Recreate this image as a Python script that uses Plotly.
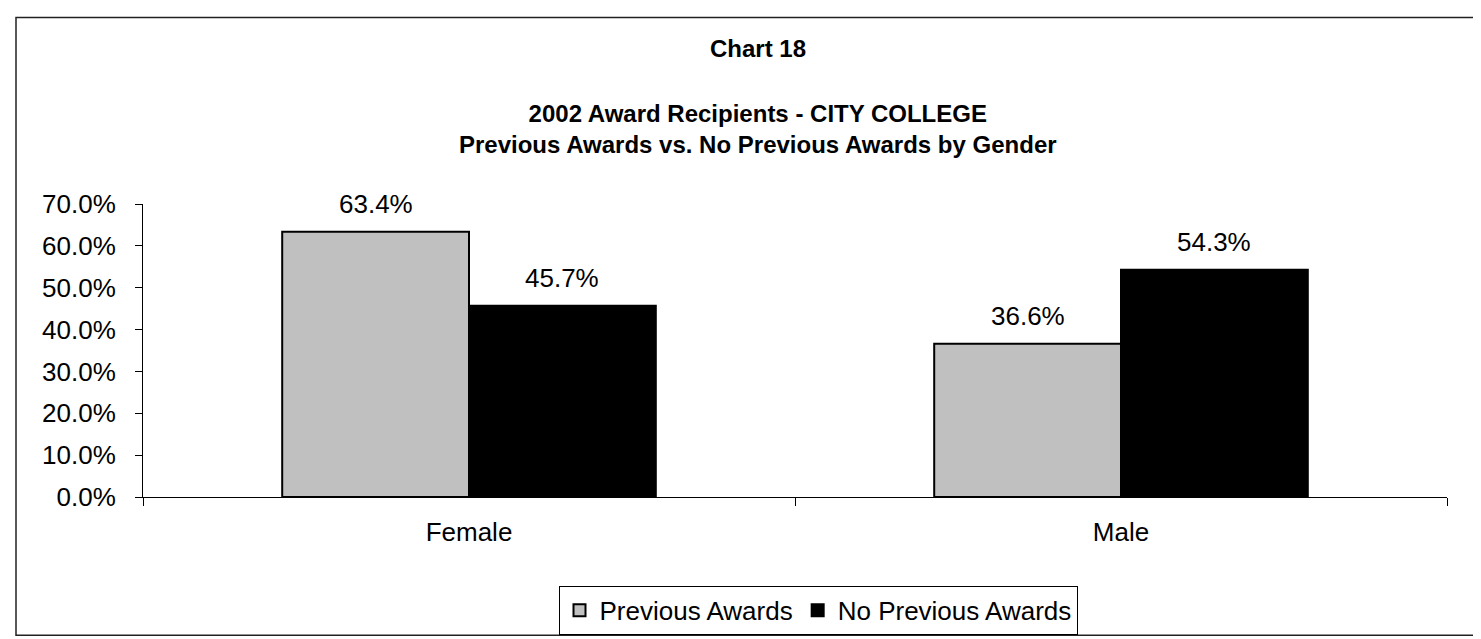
import plotly.graph_objects as go

W, H = 1481, 639
ML, MR, MT, MB = 135, 42, 196, 143

categories = ["Female", "Male"]
previous_awards = [63.4, 36.6]
no_previous_awards = [45.7, 54.3]
series_names = ["Previous Awards", "No Previous Awards"]
y_ticks = [0, 10, 20, 30, 40, 50, 60, 70]

FONT = "Arial, Liberation Sans, sans-serif"
PW = W - ML - MR
PH = H - MT - MB
BARGAP = 0.427


def px_x(px):
    return (px - ML) / PW


def px_y(py):
    return (H - MB - py) / PH


fig = go.Figure()
fig.add_trace(go.Bar(x=categories, y=previous_awards, name=series_names[0],
                     marker=dict(color="#C0C0C0", line=dict(color="black", width=2))))
fig.add_trace(go.Bar(x=categories, y=no_previous_awards, name=series_names[1],
                     marker=dict(color="black", line=dict(color="black", width=2))))

# value labels above each bar (shifted to the centre of each bar in the group)
bar_w = PW / len(categories) * (1 - BARGAP) / 2
annotations = []
for vals, shift in [(previous_awards, -bar_w / 2), (no_previous_awards, bar_w / 2)]:
    for c, v in zip(categories, vals):
        annotations.append(dict(x=c, y=v, xref="x", yref="y", text=f"{v:.1f}%",
                                showarrow=False, xshift=shift, yshift=28, yanchor="middle",
                                font=dict(size=26, color="black", family=FONT)))

annotations += [
    dict(x=px_x(750), y=px_y(37), xref="paper", yref="paper", showarrow=False,
         xanchor="center", yanchor="middle",
         text="<b>Chart 18</b>", font=dict(size=24, color="black", family=FONT)),
    dict(x=px_x(750), y=px_y(119), xref="paper", yref="paper", showarrow=False,
         xanchor="center", yanchor="middle",
         text="<b>2002 Award Recipients - CITY COLLEGE<br>Previous Awards vs. No Previous Awards by Gender</b>",
         font=dict(size=24, color="black", family=FONT)),
]

fig.update_layout(
    width=W, height=H,
    margin=dict(l=ML, r=MR, t=MT, b=MB),
    paper_bgcolor="white", plot_bgcolor="white",
    barmode="group", bargap=BARGAP, bargroupgap=0,
    font=dict(family=FONT, size=26, color="black"),
    showlegend=True,
    legend=dict(orientation="h", x=px_x(810), y=px_y(612), xanchor="center", yanchor="middle",
                bordercolor="black", borderwidth=1, font=dict(size=26), itemwidth=30,
                tracegroupgap=0),
    annotations=annotations,
    shapes=[dict(type="rect", xref="paper", yref="paper",
                 x0=px_x(8), x1=px_x(W - 2), y0=px_y(H - 1.5), y1=px_y(5),
                 line=dict(color="#222222", width=1.5))],
)
fig.update_xaxes(showline=True, linecolor="black", linewidth=1, ticks="outside",
                 tickson="boundaries", ticklen=8, tickcolor="black",
                 ticklabelstandoff=12, showgrid=False)
fig.update_yaxes(range=[0, 70], tickvals=y_ticks, ticktext=[f"{t:.1f}%" for t in y_ticks],
                 showline=True, linecolor="black", linewidth=1, ticks="outside",
                 ticklen=7, tickcolor="black", ticklabelstandoff=14,
                 showgrid=False, zeroline=False)

fig.write_html("out.html")
